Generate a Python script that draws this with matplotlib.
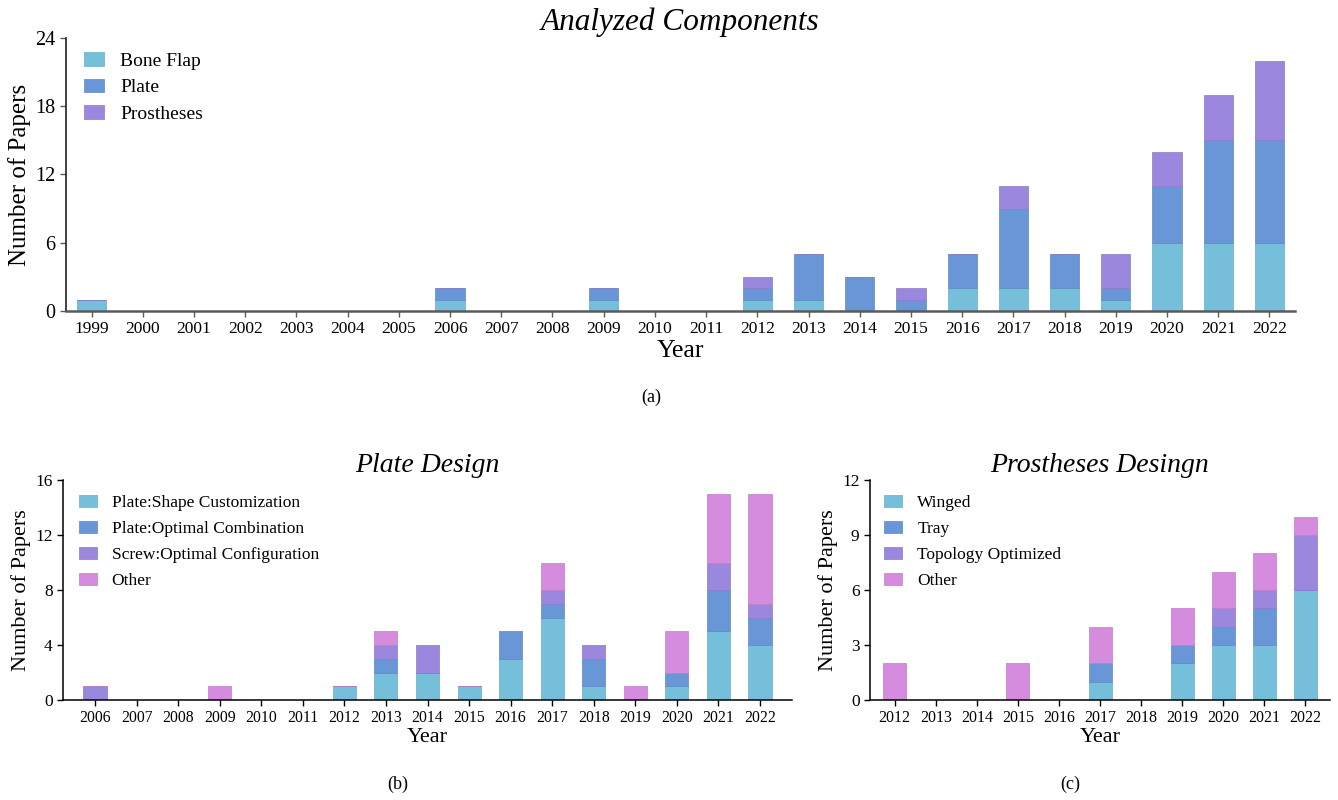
import matplotlib
matplotlib.use("Agg")
import matplotlib.pyplot as plt
import numpy as np
from matplotlib.colors import to_rgb

plt.rcParams['font.family'] = ['Liberation Serif', 'DejaVu Serif']
plt.rcParams['mathtext.fontset'] = 'stix'

# ---------------- Data ----------------
years_a = [str(y) for y in range(1999, 2023)]
bone_flap = [1, 0, 0, 0, 0, 0, 0, 1, 0, 0, 1, 0, 0, 1, 1, 0, 0, 2, 2, 2, 1, 6, 6, 6]
plate     = [0, 0, 0, 0, 0, 0, 0, 1, 0, 0, 1, 0, 0, 1, 4, 3, 1, 3, 7, 3, 1, 5, 9, 9]
prosth    = [0, 0, 0, 0, 0, 0, 0, 0, 0, 0, 0, 0, 0, 1, 0, 0, 1, 0, 2, 0, 3, 3, 4, 7]
labels_a = ["Bone Flap", "Plate", "Prostheses"]

years_b = [str(y) for y in range(2006, 2023)]
shape_cust = [0, 0, 0, 0, 0, 0, 1, 2, 2, 1, 3, 6, 1, 0, 1, 5, 4]
opt_comb   = [0, 0, 0, 0, 0, 0, 0, 1, 0, 0, 2, 1, 2, 0, 1, 3, 2]
screw_conf = [1, 0, 0, 0, 0, 0, 0, 1, 2, 0, 0, 1, 1, 0, 0, 2, 1]
other_b    = [0, 0, 0, 1, 0, 0, 0, 1, 0, 0, 0, 2, 0, 1, 3, 5, 8]
labels_b = ["Plate:Shape Customization", "Plate:Optimal Combination",
            "Screw:Optimal Configuration", "Other"]

years_c = [str(y) for y in range(2012, 2023)]
winged   = [0, 0, 0, 0, 0, 1, 0, 2, 3, 3, 6]
tray     = [0, 0, 0, 0, 0, 1, 0, 1, 1, 2, 0]
topology = [0, 0, 0, 0, 0, 0, 0, 0, 1, 1, 3]
other_c  = [2, 0, 0, 2, 0, 2, 0, 2, 2, 2, 1]
labels_c = ["Winged", "Tray", "Topology Optimized", "Other"]

colors = ["#75BFDA", "#6896D6", "#9B87DE", "#D58CDE"]


def darker(c, f=0.9):
    r, g, b = to_rgb(c)
    return (r * f, g * f, b * f)


def stacked(ax, cats, series, labels, width, spine_color, spine_lw):
    x = np.arange(len(cats))
    bottom = np.zeros(len(cats))
    for vals, lab, col in zip(series, labels, colors):
        v = np.array(vals, dtype=float)
        ax.bar(x, v, width, bottom=bottom, color=col, label=lab,
               edgecolor=darker(col), linewidth=0.5)
        bottom += v
    ax.set_xticks(x)
    ax.set_xticklabels(cats)
    for s in ["top", "right"]:
        ax.spines[s].set_visible(False)
    for s in ["left", "bottom"]:
        ax.spines[s].set_color(spine_color)
        ax.spines[s].set_linewidth(spine_lw)
    ax.tick_params(axis='both', direction='out', length=4, width=1,
                   color=spine_color)
    return x


W, H = 1338, 800
fig = plt.figure(figsize=(W / 100, H / 100), dpi=100)


def axes_px(l, t, r, b):
    return fig.add_axes([l / W, 1 - b / H, (r - l) / W, (b - t) / H])


leg_kw = dict(loc='upper left', frameon=False, handlelength=1.05,
              handleheight=0.7, handletextpad=0.85)

# ---- (a) ----
ax1 = axes_px(66, 38, 1295, 311)
stacked(ax1, years_a, [bone_flap, plate, prosth], labels_a, 0.57, "#5a5a5a", 1.8)
ax1.spines['left'].set_color('#222222')
ax1.spines['left'].set_linewidth(1.2)
ax1.set_xlim(-0.5, 23.5)
ax1.set_ylim(0, 24)
ax1.set_yticks([0, 6, 12, 18, 24])
ax1.tick_params(axis='x', labelsize=12.5)
ax1.tick_params(axis='y', labelsize=14.5)
ax1.set_title("Analyzed Components", fontsize=22.5, style='italic', pad=6)
ax1.set_xlabel("Year", fontsize=18.5, labelpad=2)
ax1.set_ylabel("Number of Papers", fontsize=18, labelpad=3)
ax1.legend(fontsize=14, labelspacing=0.45, bbox_to_anchor=(0.0, 1.012), **leg_kw)
fig.text(651 / W, 1 - 397 / H, "(a)", ha='center', va='center', fontsize=13)

# ---- (b) ----
ax2 = axes_px(63, 480, 792, 700)
stacked(ax2, years_b, [shape_cust, opt_comb, screw_conf, other_b], labels_b,
        0.555, "black", 1.1)
ax2.set_xlim(-0.77, 16.77)
ax2.set_ylim(0, 16)
ax2.set_yticks([0, 4, 8, 12, 16])
ax2.tick_params(axis='x', labelsize=11.3)
ax2.tick_params(axis='y', labelsize=12.5)
ax2.set_title("Plate Design", fontsize=20, style='italic', pad=6)
ax2.set_xlabel("Year", fontsize=16, labelpad=1)
ax2.set_ylabel("Number of Papers", fontsize=16, labelpad=3)
ax2.legend(fontsize=12.5, labelspacing=0.57, bbox_to_anchor=(0.0, 1.004), **leg_kw)
fig.text(398 / W, 1 - 784 / H, "(b)", ha='center', va='center', fontsize=13)

# ---- (c) ----
ax3 = axes_px(870, 480, 1330, 700)
stacked(ax3, years_c, [winged, tray, topology, other_c], labels_c,
        0.56, "black", 1.1)
ax3.set_xlim(-0.6, 10.6)
ax3.set_ylim(0, 12)
ax3.set_yticks([0, 3, 6, 9, 12])
ax3.tick_params(axis='x', labelsize=11.5)
ax3.tick_params(axis='y', labelsize=12.5)
ax3.set_title("Prostheses Desingn", fontsize=20, style='italic', pad=6)
ax3.set_xlabel("Year", fontsize=16, labelpad=1)
ax3.set_ylabel("Number of Papers", fontsize=16, labelpad=3)
ax3.legend(fontsize=12.5, labelspacing=0.57, bbox_to_anchor=(-0.003, 1.004), **leg_kw)
fig.text(1070 / W, 1 - 784 / H, "(c)", ha='center', va='center', fontsize=13)

fig.savefig("out.png", dpi=100)
